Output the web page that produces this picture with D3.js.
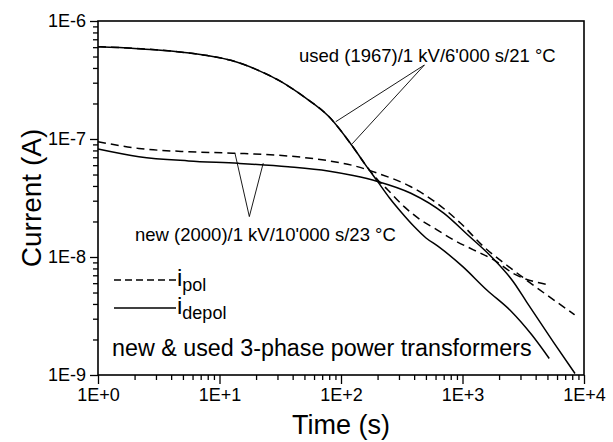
<!DOCTYPE html>
<html><head><meta charset="utf-8">
<script src="https://cdn.jsdelivr.net/npm/d3@7"></script>
<style>
body{margin:0;background:#fff}
svg{display:block}
text{font-family:"Liberation Sans",Arial,sans-serif;fill:#000}
</style>
</head><body>
<svg id="c" width="613" height="442"></svg>
<script>
// ---- data ----
const xTickValues = [1, 10, 100, 1000, 10000];
const xTickLabels = ["1E+0", "1E+1", "1E+2", "1E+3", "1E+4"];
const yTickValues = [1e-9, 1e-8, 1e-7, 1e-6];
const yTickLabels = ["1E-9", "1E-8", "1E-7", "1E-6"];

// used transformer (1967)
const usedDepolT = [1, 2.0, 3.98, 7.94, 12.6, 20, 31.6, 50.1, 79.4, 126, 158, 200, 251, 316, 398, 501, 631, 1000, 1585, 2512, 3715, 5176];
const usedDepolI = [6.05e-7, 5.86e-7, 5.56e-7, 5.09e-7, 4.62e-7, 3.89e-7, 3.09e-7, 2.26e-7, 1.55e-7, 8.51e-8, 6.1e-8, 4.37e-8, 3.16e-8, 2.37e-8, 1.82e-8, 1.45e-8, 1.23e-8, 8.32e-9, 5.25e-9, 3.47e-9, 2.19e-9, 1.38e-9];
const usedPolT = [1, 2.0, 3.98, 7.94, 12.6, 20, 31.6, 50.1, 79.4, 126, 158, 200, 243, 331, 453, 617, 851, 1230, 1807, 2630, 5176];
const usedPolI = [6.05e-7, 5.86e-7, 5.56e-7, 5.09e-7, 4.62e-7, 3.89e-7, 3.09e-7, 2.26e-7, 1.55e-7, 8.51e-8, 6.1e-8, 4.52e-8, 3.70e-8, 2.67e-8, 2.06e-8, 1.70e-8, 1.39e-8, 1.15e-8, 9.44e-9, 7.24e-9, 5.79e-9];

// new transformer (2000)
const newPolT = [1, 2.17, 5.56, 12.9, 36.7, 78.2, 126, 200, 376, 617, 966, 1496, 2317, 3162, 8375];
const newPolI = [9.48e-8, 8.32e-8, 7.80e-8, 7.59e-8, 7.18e-8, 6.55e-8, 5.96e-8, 5.13e-8, 3.94e-8, 2.85e-8, 1.93e-8, 1.22e-8, 8.51e-9, 6.68e-9, 3.24e-9];
const newDepolT = [1, 2.17, 5.56, 14.3, 36.7, 78.2, 126, 200, 376, 705, 1096, 1786, 2618, 3365, 5585, 8433];
const newDepolI = [8.22e-8, 7.08e-8, 6.52e-8, 6.22e-8, 5.82e-8, 5.36e-8, 4.90e-8, 4.37e-8, 3.47e-8, 2.34e-8, 1.55e-8, 9.70e-9, 6.17e-9, 4.17e-9, 1.91e-9, 1.03e-9];

const usedLabel = "used (1967)/1 kV/6'000 s/21 °C";
const newLabel = "new (2000)/1 kV/10'000 s/23 °C";
const noteLabel = "new & used 3-phase power transformers";
// leader line anchors (t, I): apex then two tips
const usedLeader = [[486, 4.24e-7], [90.4, 1.40e-7], [123.6, 9.1e-8]];
const newLeader = [[17.6, 2.2e-8], [13.4, 7.59e-8], [22.9, 6.24e-8]];

// ---- layout ----
const L = 98, R = 584, T = 21, B = 375;
const svg = d3.select("#c");
const x = d3.scaleLog().domain([1, 1e4]).range([L, R]);
const y = d3.scaleLog().domain([1e-9, 1e-6]).range([B, T]);

// minor ticks
const isPow10 = v => Math.abs(Math.log10(v) - Math.round(Math.log10(v))) < 1e-9;
const xMinor = x.ticks().filter(v => !isPow10(v));
const yMinor = y.ticks().filter(v => !isPow10(v));

const gx = svg.append("g").attr("transform", `translate(0,${B})`);
gx.call(d3.axisBottom(x).tickValues(xMinor).tickSize(5).tickFormat(""));
gx.append("g").call(d3.axisBottom(x).tickValues(xTickValues).tickSize(9).tickPadding(4)
  .tickFormat((d, i) => xTickLabels[i]));
gx.selectAll("path.domain").remove();
gx.selectAll("line").attr("stroke", "#000").attr("stroke-width", 1.3);
gx.selectAll("text").attr("font-size", 18).attr("font-family", '"Liberation Sans",Arial,sans-serif').attr("fill", "#000");

const gy = svg.append("g").attr("transform", `translate(${L},0)`);
gy.call(d3.axisLeft(y).tickValues(yMinor).tickSize(5).tickFormat(""));
gy.append("g").call(d3.axisLeft(y).tickValues(yTickValues).tickSize(8).tickPadding(4)
  .tickFormat((d, i) => yTickLabels[i]));
gy.selectAll("path.domain").remove();
gy.selectAll("line").attr("stroke", "#000").attr("stroke-width", 1.3);
gy.selectAll("text").attr("font-size", 18).attr("font-family", '"Liberation Sans",Arial,sans-serif').attr("fill", "#000");

// frame
svg.append("rect").attr("x", L).attr("y", T).attr("width", R - L).attr("height", B - T)
  .attr("fill", "none").attr("stroke", "#000").attr("stroke-width", 1.6);

// curves
const line = d3.line().x(d => x(d[0])).y(d => y(d[1])).curve(d3.curveMonotoneX);
const series = [
  {t: usedPolT, i: usedPolI, dash: "8,5"},
  {t: newPolT, i: newPolI, dash: "8,5"},
  {t: usedDepolT, i: usedDepolI, dash: null},
  {t: newDepolT, i: newDepolI, dash: null}
];
series.forEach(s => {
  svg.append("path").datum(s.t.map((t, k) => [t, s.i[k]]))
    .attr("d", line).attr("fill", "none").attr("stroke", "#000").attr("stroke-width", 1.5)
    .attr("stroke-dasharray", s.dash);
});

// leaders
[usedLeader, newLeader].forEach(ld => {
  const [apex, a, b] = ld;
  [a, b].forEach(p => svg.append("line")
    .attr("x1", x(apex[0])).attr("y1", y(apex[1])).attr("x2", x(p[0])).attr("y2", y(p[1]))
    .attr("stroke", "#000").attr("stroke-width", 0.9));
});

// annotation text
svg.append("text").attr("x", 299).attr("y", 62).attr("font-size", 18.5).text(usedLabel);
svg.append("text").attr("x", 135).attr("y", 241).attr("font-size", 18.5).text(newLabel);
svg.append("text").attr("x", 112).attr("y", 356).attr("font-size", 23.3).text(noteLabel);

// legend
const legend = [
  {dash: "7,4", sub: "pol", y: 280},
  {dash: null, sub: "depol", y: 308}
];
legend.forEach(l => {
  svg.append("line").attr("x1", 114).attr("x2", 176).attr("y1", l.y).attr("y2", l.y)
    .attr("stroke", "#000").attr("stroke-width", 1.5).attr("stroke-dasharray", l.dash);
  const t = svg.append("text").attr("x", 177).attr("y", l.y + 6).attr("font-size", 24);
  t.append("tspan").text("i");
  t.append("tspan").attr("dy", 5).attr("font-size", 18).text(l.sub);
});

// axis titles
svg.append("text").attr("x", (L + R) / 2).attr("y", 434).attr("text-anchor", "middle")
  .attr("font-size", 27).text("Time (s)");
svg.append("text").attr("transform", `translate(41,${(T + B) / 2}) rotate(-90)`)
  .attr("text-anchor", "middle").attr("font-size", 28).text("Current (A)");
</script>
</body></html>
